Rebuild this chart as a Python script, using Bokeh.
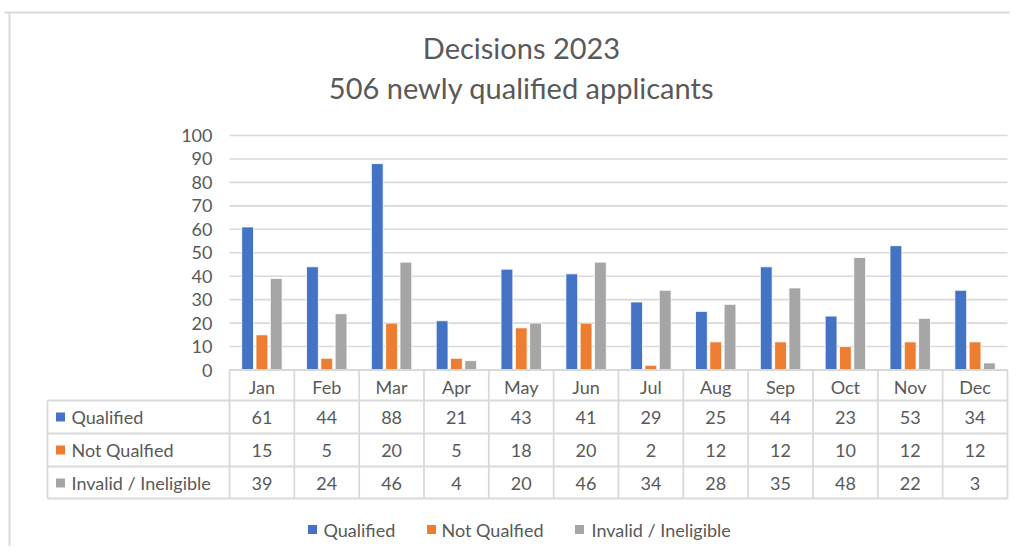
from bokeh.plotting import figure
from bokeh.models import Range1d
from bokeh.core.properties import value
from bokeh.embed import file_html
from bokeh.resources import INLINE

# ---- data ----
months = ["Jan", "Feb", "Mar", "Apr", "May", "Jun", "Jul", "Aug", "Sep", "Oct", "Nov", "Dec"]
series_names = ["Qualified", "Not Qualfied", "Invalid / Ineligible"]
qualified = [61, 44, 88, 21, 43, 41, 29, 25, 44, 23, 53, 34]
not_qualified = [15, 5, 20, 5, 18, 20, 2, 12, 12, 10, 12, 12]
invalid = [39, 24, 46, 4, 20, 46, 34, 28, 35, 48, 22, 3]
y_ticks = [0, 10, 20, 30, 40, 50, 60, 70, 80, 90, 100]
title_lines = ["Decisions 2023", "506 newly qualified applicants"]

colors = ["#4472C4", "#ED7D31", "#A5A5A5"]
series = [qualified, not_qualified, invalid]
FONT = "Lato"
TXT = "#595959"
GRID = "#D9D9D9"
FS = "18px"

# ---- layout (image pixels -> data units) ----
W, H = 1010, 546
OFF = 0
X0, SW = 229.0, 64.83      # x of first category slot, slot width
Y0, PPU = 369.5, 2.345     # y of value 0, pixels per unit

def px(X):
    return (X - X0) / SW

def py(Y):
    return (Y0 - Y) / PPU

p = figure(width=W, height=H, output_backend="svg", toolbar_location=None,
           x_range=Range1d(px(OFF), px(OFF + W)), y_range=Range1d(py(OFF + H), py(OFF)),
           min_border=0)
p.axis.visible = False
p.grid.visible = False
p.outline_line_color = None
p.background_fill_color = "white"

n = len(months)
slot_centers = [i + 0.5 for i in range(n)]

# gridlines
p.segment(x0=[0] * (len(y_ticks) - 1), x1=[n] * (len(y_ticks) - 1),
          y0=y_ticks[1:], y1=y_ticks[1:], line_color=GRID, line_width=1.6)

# bars
off = 14.3 / SW
bw = 11.8 / SW
for k, (vals, col) in enumerate(zip(series, colors)):
    xs = [c + (k - 1) * off for c in slot_centers]
    p.vbar(x=xs, top=vals, bottom=0, width=bw, fill_color=col, line_color="white", line_width=0.8)

# y tick labels
p.text(x=[px(212)] * len(y_ticks), y=y_ticks, text=[str(t) for t in y_ticks],
       text_align="right", text_baseline="middle", text_font=value(FONT),
       text_font_size=FS, text_color=TXT)

# outer chart border (top and left visible)
p.segment(x0=[px(4), px(9)], x1=[px(1030), px(9)], y0=[py(12), py(12)], y1=[py(12), py(570)],
          line_color=GRID, line_width=2)

# table lines
row_edges = [400, 433, 466, 498]
p.segment(x0=[0], x1=[n], y0=[0], y1=[0], line_color=GRID, line_width=1.8)
p.segment(x0=[px(47)] * len(row_edges), x1=[n] * len(row_edges),
          y0=[py(Y) for Y in row_edges], y1=[py(Y) for Y in row_edges],
          line_color=GRID, line_width=1.8)
p.segment(x0=list(range(n + 1)), x1=list(range(n + 1)),
          y0=[0] * (n + 1), y1=[py(498)] * (n + 1), line_color=GRID, line_width=1.8)
p.segment(x0=[px(47)], x1=[px(47)], y0=[py(400)], y1=[py(498)], line_color=GRID, line_width=1.8)

# month header
p.text(x=slot_centers, y=[py(386)] * n, text=months, text_align="center",
       text_baseline="middle", text_font=value(FONT), text_font_size=FS, text_color=TXT)

# table values and row labels
row_centers = [416.5, 449.5, 482.5]
for k, (vals, col, name) in enumerate(zip(series, colors, series_names)):
    yc = py(row_centers[k])
    p.text(x=slot_centers, y=[yc] * n, text=[str(v) for v in vals], text_align="center",
           text_baseline="middle", text_font=value(FONT), text_font_size=FS, text_color=TXT)
    p.scatter(x=[px(60)], y=[yc], marker="square", size=9, fill_color=col, line_color=None)
    p.text(x=[px(71)], y=[yc], text=[name], text_align="left", text_baseline="middle",
           text_font=value(FONT), text_font_size=FS, text_color=TXT)

# legend
leg_sq = [312, 431, 579]
leg_tx = [323, 441, 591]
for k, (col, name) in enumerate(zip(colors, series_names)):
    p.scatter(x=[px(leg_sq[k])], y=[py(529)], marker="square", size=9, fill_color=col, line_color=None)
    p.text(x=[px(leg_tx[k])], y=[py(529)], text=[name], text_align="left", text_baseline="middle",
           text_font=value(FONT), text_font_size=FS, text_color=TXT)

# title
p.text(x=[px(521), px(521)], y=[py(47), py(87)], text=title_lines, text_align="center",
       text_baseline="middle", text_font=value(FONT), text_font_size="29px", text_color=TXT)

open("out.html", "w").write(file_html(p, INLINE))
